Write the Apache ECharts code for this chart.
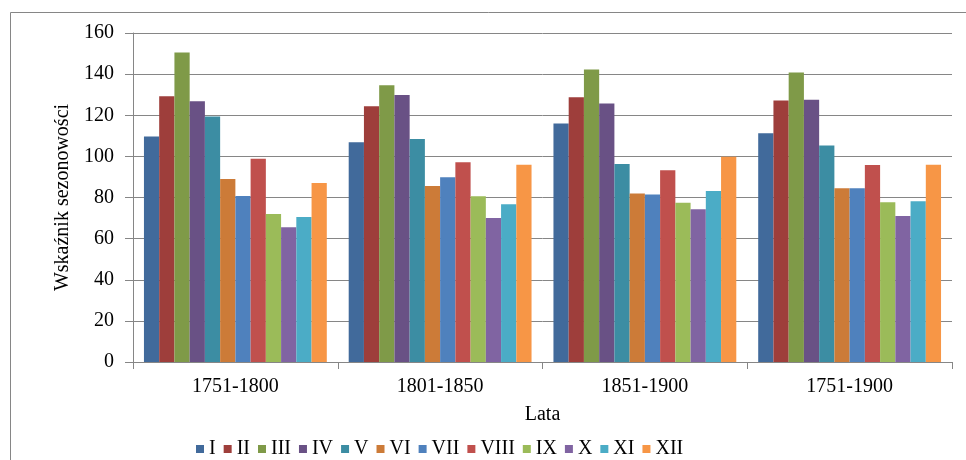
<!DOCTYPE html>
<html>
<head>
<meta charset="utf-8">
<script src="https://cdn.jsdelivr.net/npm/echarts@6/dist/echarts.min.js"></script>
<style>html,body{margin:0;padding:0;background:#fff}#c{width:966px;height:460px}</style>
</head>
<body>
<div id="c"></div>
<script>
var categories = ['1751-1800', '1801-1850', '1851-1900', '1751-1900'];
var months = ['I','II','III','IV','V','VI','VII','VIII','IX','X','XI','XII'];
var I    = [109.7, 106.9, 116.0, 111.3];
var II   = [129.3, 124.4, 128.8, 127.2];
var III  = [150.5, 134.6, 142.2, 140.8];
var IV   = [126.8, 129.8, 125.7, 127.5];
var V    = [119.4, 108.4, 96.3, 105.3];
var VI   = [89.0, 85.6, 81.9, 84.5];
var VII  = [80.7, 89.8, 81.5, 84.5];
var VIII = [98.8, 97.2, 93.2, 95.8];
var IX   = [72.0, 80.6, 77.5, 77.7];
var X    = [65.5, 70.0, 74.3, 71.0];
var XI   = [70.5, 76.7, 83.2, 78.2];
var XII  = [87.0, 95.9, 99.8, 95.9];
var seriesValues = [I, II, III, IV, V, VI, VII, VIII, IX, X, XI, XII];
var yTicks = [0, 20, 40, 60, 80, 100, 120, 140, 160];

var colors = ['#416A9B','#9E3E3B','#7F9A48','#695185','#3C8DA3','#CC7B38','#4F81BD','#C0504D','#9BBB59','#8064A2','#4BACC6','#F79646'];
var font = 'Liberation Serif, Times New Roman, serif';
var fs = 20;

var chart = echarts.init(document.getElementById('c'), null, {renderer: 'canvas'});
chart.setOption({
  animation: false,
  color: colors,
  textStyle: {fontFamily: font, color: '#000'},
  graphic: [{
    type: 'rect', left: 8, top: 10, shape: {width: 1000, height: 500},
    style: {fill: 'none', stroke: '#868686', lineWidth: 1}, silent: true, z: -1
  }],
  grid: {left: 133, right: 14, top: 33, bottom: 98},
  legend: {
    left: 191, top: 434, itemWidth: 8, itemHeight: 8, itemGap: 8,
    icon: 'rect',
    textStyle: {fontFamily: font, fontSize: fs, color: '#000'},
    data: months
  },
  xAxis: {
    type: 'category', data: categories,
    name: 'Lata', nameLocation: 'middle', nameGap: 43,
    nameTextStyle: {fontFamily: font, fontSize: fs, color: '#000'},
    axisLine: {lineStyle: {color: '#868686', width: 1}},
    axisTick: {show: true, length: 7, lineStyle: {color: '#868686'}},
    axisLabel: {fontFamily: font, fontSize: fs, color: '#000', margin: 15}
  },
  yAxis: {
    type: 'value', min: 0, max: 160, interval: 20,
    name: 'Wskaźnik sezonowości', nameLocation: 'middle', nameGap: 56,
    nameTextStyle: {fontFamily: font, fontSize: fs, color: '#000'},
    axisLine: {show: true, lineStyle: {color: '#868686', width: 1}},
    axisTick: {show: true, length: 8, lineStyle: {color: '#868686'}},
    axisLabel: {fontFamily: font, fontSize: fs, color: '#000', margin: 19,
      formatter: function (v) { return yTicks.indexOf(v) >= 0 ? String(v) : ''; }},
    splitLine: {show: true, lineStyle: {color: '#868686', width: 1}}
  },
  series: months.map(function (m, i) {
    return {
      name: m, type: 'bar', data: seriesValues[i],
      barGap: '0%', barCategoryGap: '10.7%',
      itemStyle: {color: colors[i]}
    };
  })
});
</script>
</body>
</html>
